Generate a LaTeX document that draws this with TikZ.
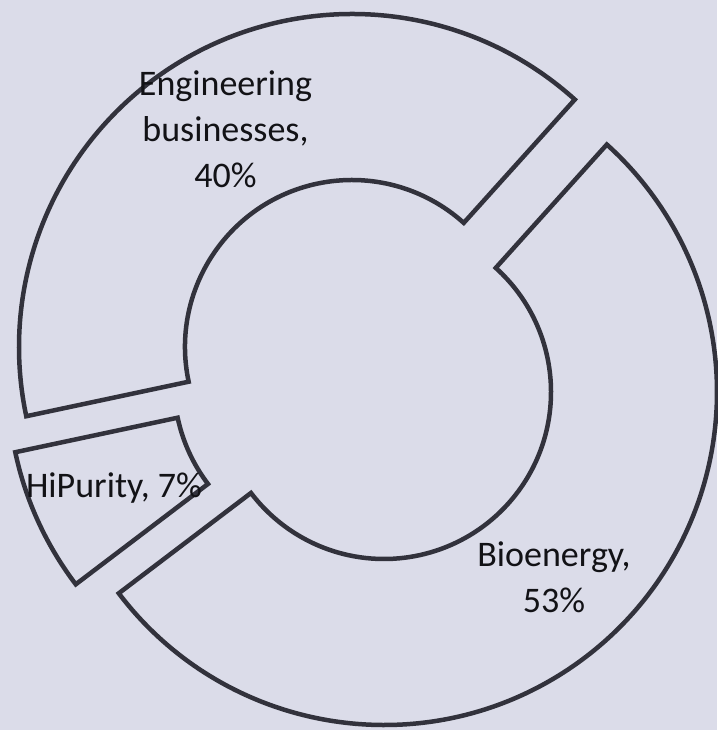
\documentclass[tikz,border=0pt]{standalone}
\usepackage{fontspec}
\setmainfont{Carlito}
\usetikzlibrary{calc}
\definecolor{bgc}{RGB}{219,220,233}
\definecolor{edge}{RGB}{50,50,60}
\definecolor{txt}{RGB}{18,18,22}
\tikzset{
  seg/.style={draw=edge, line width=4.5pt, line join=miter},
  lbl/.style={text=txt, align=center, inner sep=0pt, font=\fontsize{36}{46}\selectfont}
}
\newcommand{\ringseg}[3]{% center, start, end
  \draw[seg] ($(#1)+(#2:167)$) -- ($(#1)+(#2:333)$) arc[start angle=#2, end angle=#3, radius=333]
    -- ($(#1)+(#3:167)$) arc[start angle=#3, end angle=#2, radius=167] -- cycle;}
\begin{document}
\begin{tikzpicture}[x=1pt,y=1pt]
\fill[bgc] (0,0) rectangle (717,730);
\useasboundingbox (0,0) rectangle (717,730);
\coordinate (cbio) at (384,338);
\coordinate (ceng) at (352,383);
\coordinate (chi) at (341,347);
\ringseg{cbio}{217.2}{408}
\ringseg{ceng}{48}{192}
\ringseg{chi}{192}{217.2}
\node[lbl, anchor=base] (eng) at (225.5,542) {Engineering\\businesses,\\40\%};
\node[lbl, anchor=base] (bio) at (554,117) {Bioenergy,\\53\%};
\node[lbl, anchor=base] (hi) at (114,232) {HiPurity, 7\%};
\end{tikzpicture}
\end{document}
